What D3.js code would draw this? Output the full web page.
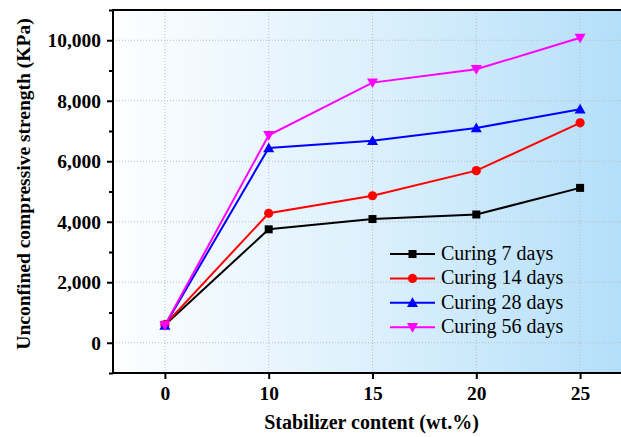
<!DOCTYPE html>
<html>
<head>
<meta charset="utf-8">
<script src="https://cdn.jsdelivr.net/npm/d3@7"></script>
<style>
  html, body { margin: 0; padding: 0; background: #fff; }
  svg { display: block; }
  svg text { font-family: "Liberation Serif", Tinos, "Times New Roman", Times, "DejaVu Serif", serif; }
</style>
</head>
<body>
<svg id="chart" width="621" height="437"></svg>
<script>
// Stabilizer content (wt.%) on the x axis, treated as ordered categories
const categories = ["0", "10", "15", "20", "25"];

// Unconfined compressive strength (kPa) for each curing period
const cure7  = [590, 3750, 4090, 4240, 5120];
const cure14 = [600, 4280, 4860, 5690, 7270];
const cure28 = [570, 6440, 6680, 7100, 7720];
const cure56 = [580, 6860, 8600, 9040, 10080];

const seriesNames = ["Curing 7 days", "Curing 14 days", "Curing 28 days", "Curing 56 days"];
const seriesColors = ["#000000", "#ff0000", "#0000ff", "#ff00ff"];
const seriesSymbols = ["square", "circle", "triangle", "triangleDown"];
const seriesValues = [cure7, cure14, cure28, cure56];

const yMajorTicks = [0, 2000, 4000, 6000, 8000, 10000];
const yMinorTicks = [-1000, 1000, 3000, 5000, 7000, 9000, 11000];

const svg = d3.select("#chart");
const pLeft = 113, pTop = 10, pBottom = 373, pRight = 632;
const W = 621;

const x = d3.scalePoint().domain(categories).range([pLeft, pRight]).padding(0.5);
const y = d3.scaleLinear().domain([-1000, 11000]).range([pBottom, pTop]);

// Background gradient of the plotting area
const defs = svg.append("defs");
const grad = defs.append("linearGradient").attr("id", "bg")
  .attr("x1", "0").attr("y1", "0").attr("x2", "1").attr("y2", "0");
grad.append("stop").attr("offset", "0").attr("stop-color", "#fdfeff");
grad.append("stop").attr("offset", "0.5").attr("stop-color", "#dcf0fc");
grad.append("stop").attr("offset", "1").attr("stop-color", "#b2def9");
defs.append("clipPath").attr("id", "plotclip")
  .append("rect").attr("x", pLeft).attr("y", pTop).attr("width", pRight - pLeft).attr("height", pBottom - pTop);

svg.append("rect")
  .attr("x", pLeft).attr("y", pTop)
  .attr("width", pRight - pLeft).attr("height", pBottom - pTop)
  .attr("fill", "url(#bg)");

// Dotted grid
const grid = svg.append("g").attr("clip-path", "url(#plotclip)");
grid.selectAll("line.gy").data(yMajorTicks).join("line")
  .attr("x1", pLeft).attr("x2", pRight)
  .attr("y1", d => y(d)).attr("y2", d => y(d))
  .attr("stroke", "#b8bcc0").attr("stroke-width", 1).attr("stroke-dasharray", "1,2");
grid.selectAll("line.gx").data(categories).join("line")
  .attr("x1", d => x(d)).attr("x2", d => x(d))
  .attr("y1", pTop).attr("y2", pBottom)
  .attr("stroke", "#b8bcc0").attr("stroke-width", 1).attr("stroke-dasharray", "1,2");

// Axes
const yAxis = d3.axisLeft(y).tickValues(yMajorTicks).tickSize(6).tickPadding(6)
  .tickFormat(d3.format(","));
const yAxisMinor = d3.axisLeft(y).tickValues(yMinorTicks).tickSize(4).tickFormat("");
const xAxis = d3.axisBottom(x).tickSize(6).tickPadding(7);

const gy = svg.append("g").attr("transform", `translate(${pLeft},0)`).call(yAxis);
const gym = svg.append("g").attr("transform", `translate(${pLeft},0)`).call(yAxisMinor);
const gx = svg.append("g").attr("transform", `translate(0,${pBottom})`).call(xAxis);

[gy, gym, gx].forEach(g => {
  g.attr("font-family", null);
  g.select(".domain").remove();
  g.selectAll(".tick line").attr("stroke", "#000").attr("stroke-width", 2);
  g.selectAll("text")
    .attr("font-weight", "bold")
    .attr("font-size", 19.5).attr("fill", "#000");
});
gx.selectAll("text").attr("dy", "0.71em");

// Frame lines: left, bottom and top
svg.append("line").attr("x1", pLeft).attr("x2", pLeft).attr("y1", pTop - 1).attr("y2", pBottom + 1)
  .attr("stroke", "#000").attr("stroke-width", 2);
svg.append("line").attr("x1", pLeft - 1).attr("x2", W).attr("y1", pBottom).attr("y2", pBottom)
  .attr("stroke", "#000").attr("stroke-width", 2);
svg.append("line").attr("x1", pLeft - 1).attr("x2", W).attr("y1", pTop).attr("y2", pTop)
  .attr("stroke", "#000").attr("stroke-width", 2);

// Axis titles
svg.append("text")
  .attr("x", (pLeft + pRight) / 2 - 1).attr("y", 429)
  .attr("text-anchor", "middle")
  .attr("font-weight", "bold").attr("font-size", 20)
  .text("Stabilizer content (wt.%)");
svg.append("text")
  .attr("transform", `translate(30,184) rotate(-90)`)
  .attr("text-anchor", "middle")
  .attr("font-weight", "bold").attr("font-size", 19.5)
  .text("Unconfined compressive strength (KPa)");

// Marker shapes
function marker(g, kind, color) {
  if (kind === "square") {
    g.append("rect").attr("x", -4).attr("y", -4).attr("width", 8).attr("height", 8).attr("fill", color);
  } else if (kind === "circle") {
    g.append("circle").attr("r", 4.6).attr("fill", color);
  } else if (kind === "triangle") {
    g.append("path").attr("d", "M0,-5.5L5.5,4.2L-5.5,4.2Z").attr("fill", color);
  } else {
    g.append("path").attr("d", "M0,5.5L5.5,-4.2L-5.5,-4.2Z").attr("fill", color);
  }
}

const line = d3.line().x((d, i) => x(categories[i])).y(d => y(d));
const plot = svg.append("g");
seriesValues.forEach((vals, s) => {
  plot.append("path").datum(vals)
    .attr("d", line).attr("fill", "none")
    .attr("stroke", seriesColors[s]).attr("stroke-width", 2);
});
seriesValues.forEach((vals, s) => {
  vals.forEach((v, i) => {
    const g = plot.append("g").attr("transform", `translate(${x(categories[i])},${y(v)})`);
    marker(g, seriesSymbols[s], seriesColors[s]);
  });
});

// Legend
const legend = svg.append("g");
seriesNames.forEach((name, s) => {
  const yy = 254 + s * 24.4;
  legend.append("line").attr("x1", 390).attr("x2", 435).attr("y1", yy).attr("y2", yy)
    .attr("stroke", seriesColors[s]).attr("stroke-width", 2);
  const g = legend.append("g").attr("transform", `translate(412.5,${yy})`);
  marker(g, seriesSymbols[s], seriesColors[s]);
  legend.append("text").attr("x", 441).attr("y", yy + 6)
    .attr("font-size", 20).attr("fill", "#000")
    .text(name);
});
</script>
</body>
</html>
